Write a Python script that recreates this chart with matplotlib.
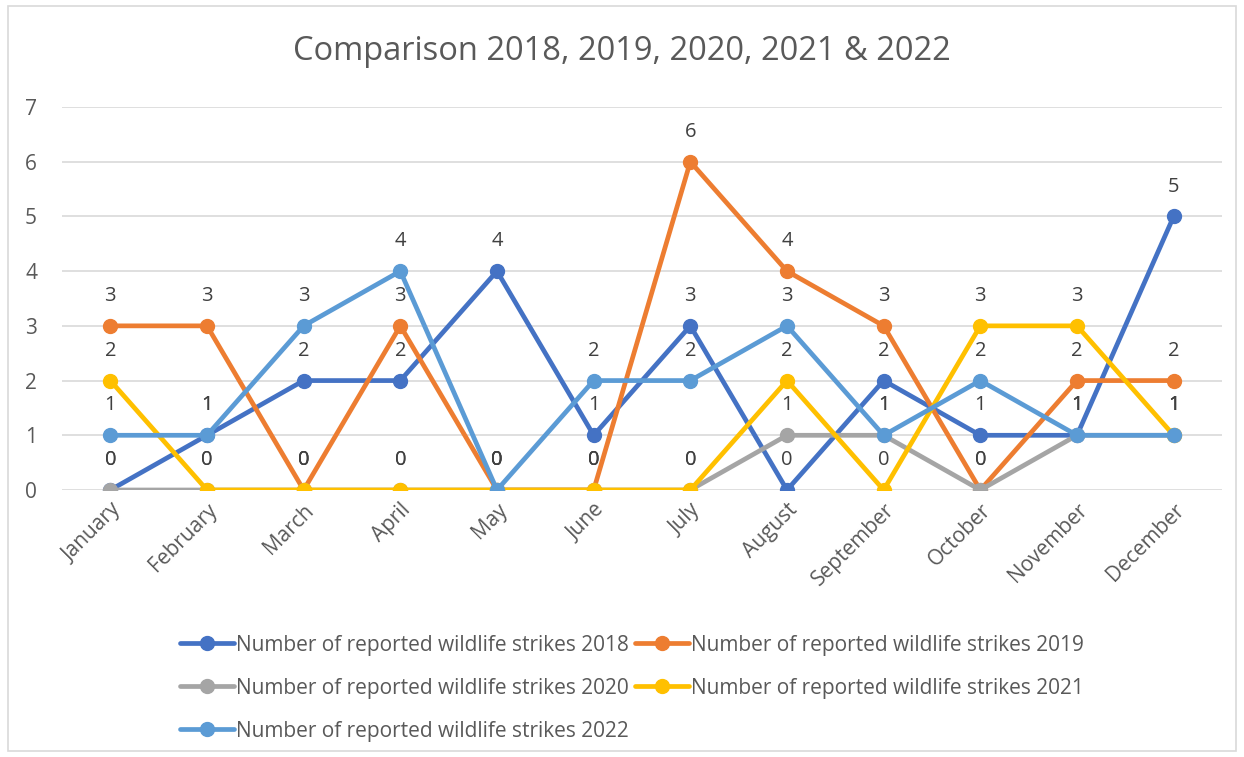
import numpy as np
import matplotlib.pyplot as plt
from matplotlib.patches import FancyBboxPatch

plt.rcParams['font.family'] = ['Open Sans', 'DejaVu Sans']

months = ["January", "February", "March", "April", "May", "June", "July",
          "August", "September", "October", "November", "December"]

strikes_2018 = [0, 1, 2, 2, 4, 1, 3, 0, 2, 1, 1, 5]
strikes_2019 = [3, 3, 0, 3, 0, 0, 6, 4, 3, 0, 2, 2]
strikes_2020 = [0, 0, 0, 0, 0, 0, 0, 1, 1, 0, 1, 1]
strikes_2021 = [2, 0, 0, 0, 0, 0, 0, 2, 0, 3, 3, 1]
strikes_2022 = [1, 1, 3, 4, 0, 2, 2, 3, 1, 2, 1, 1]

years = ["2018", "2019", "2020", "2021", "2022"]
series = [strikes_2018, strikes_2019, strikes_2020, strikes_2021, strikes_2022]
colors = ["#4472C4", "#ED7D31", "#A5A5A5", "#FFC000", "#5B9BD5"]

txt = "#595959"

fig = plt.figure(figsize=(12.44, 7.57), dpi=100)

# chart border
fig.patches.append(FancyBboxPatch((8 / 1244, 6 / 757), 1228 / 1244, 745 / 757,
                                  boxstyle="square,pad=0", transform=fig.transFigure,
                                  fill=False, edgecolor="#D9D9D9", linewidth=1.2))

ax = fig.add_axes([62 / 1244, 1 - 490 / 757, 1160 / 1244, 383 / 757])
x = np.arange(len(months))

handles = []
for yr, vals, c in zip(years, series, colors):
    h, = ax.plot(x, vals, color=c, lw=3.4, marker="o", markersize=10,
                 solid_capstyle="round", label="Number of reported wildlife strikes " + yr,
                 zorder=3)
    handles.append(h)
    for xi, v in zip(x, vals):
        ax.annotate(str(v), (xi, v), xytext=(0, 21.5), textcoords="offset points",
                    ha="center", va="center", fontsize=14.5, color="#404040", zorder=4)

ax.set_xlim(-0.5, len(months) - 0.5)
ax.set_ylim(0, 7)
ax.set_yticks(range(0, 8))
ax.yaxis.grid(True, color="#D9D9D9", lw=1.2)
ax.set_axisbelow(True)
for s in ax.spines.values():
    s.set_visible(False)
ax.tick_params(length=0)
ax.tick_params(axis="y", pad=18, labelsize=15, labelcolor=txt)
ax.set_xticks(x)
ax.set_xticklabels(months, rotation=45, ha="right", rotation_mode="anchor",
                   fontsize=15, color=txt)
ax.tick_params(axis="x", pad=7)

fig.text(0.5, 1 - 52 / 757, "Comparison 2018, 2019, 2020, 2021 & 2022",
         ha="center", va="center", fontsize=23.5, color=txt)

order = [0, 2, 4, 1, 3]
fig.legend([handles[i] for i in order], [handles[i].get_label() for i in order],
           ncol=2, loc="upper center", bbox_to_anchor=(0.508, 1 - 616 / 757),
           frameon=False, fontsize=15, labelcolor=txt, handlelength=2.6,
           handletextpad=0.1, columnspacing=0.25, labelspacing=1.05)

fig.savefig("out.png", dpi=100)
